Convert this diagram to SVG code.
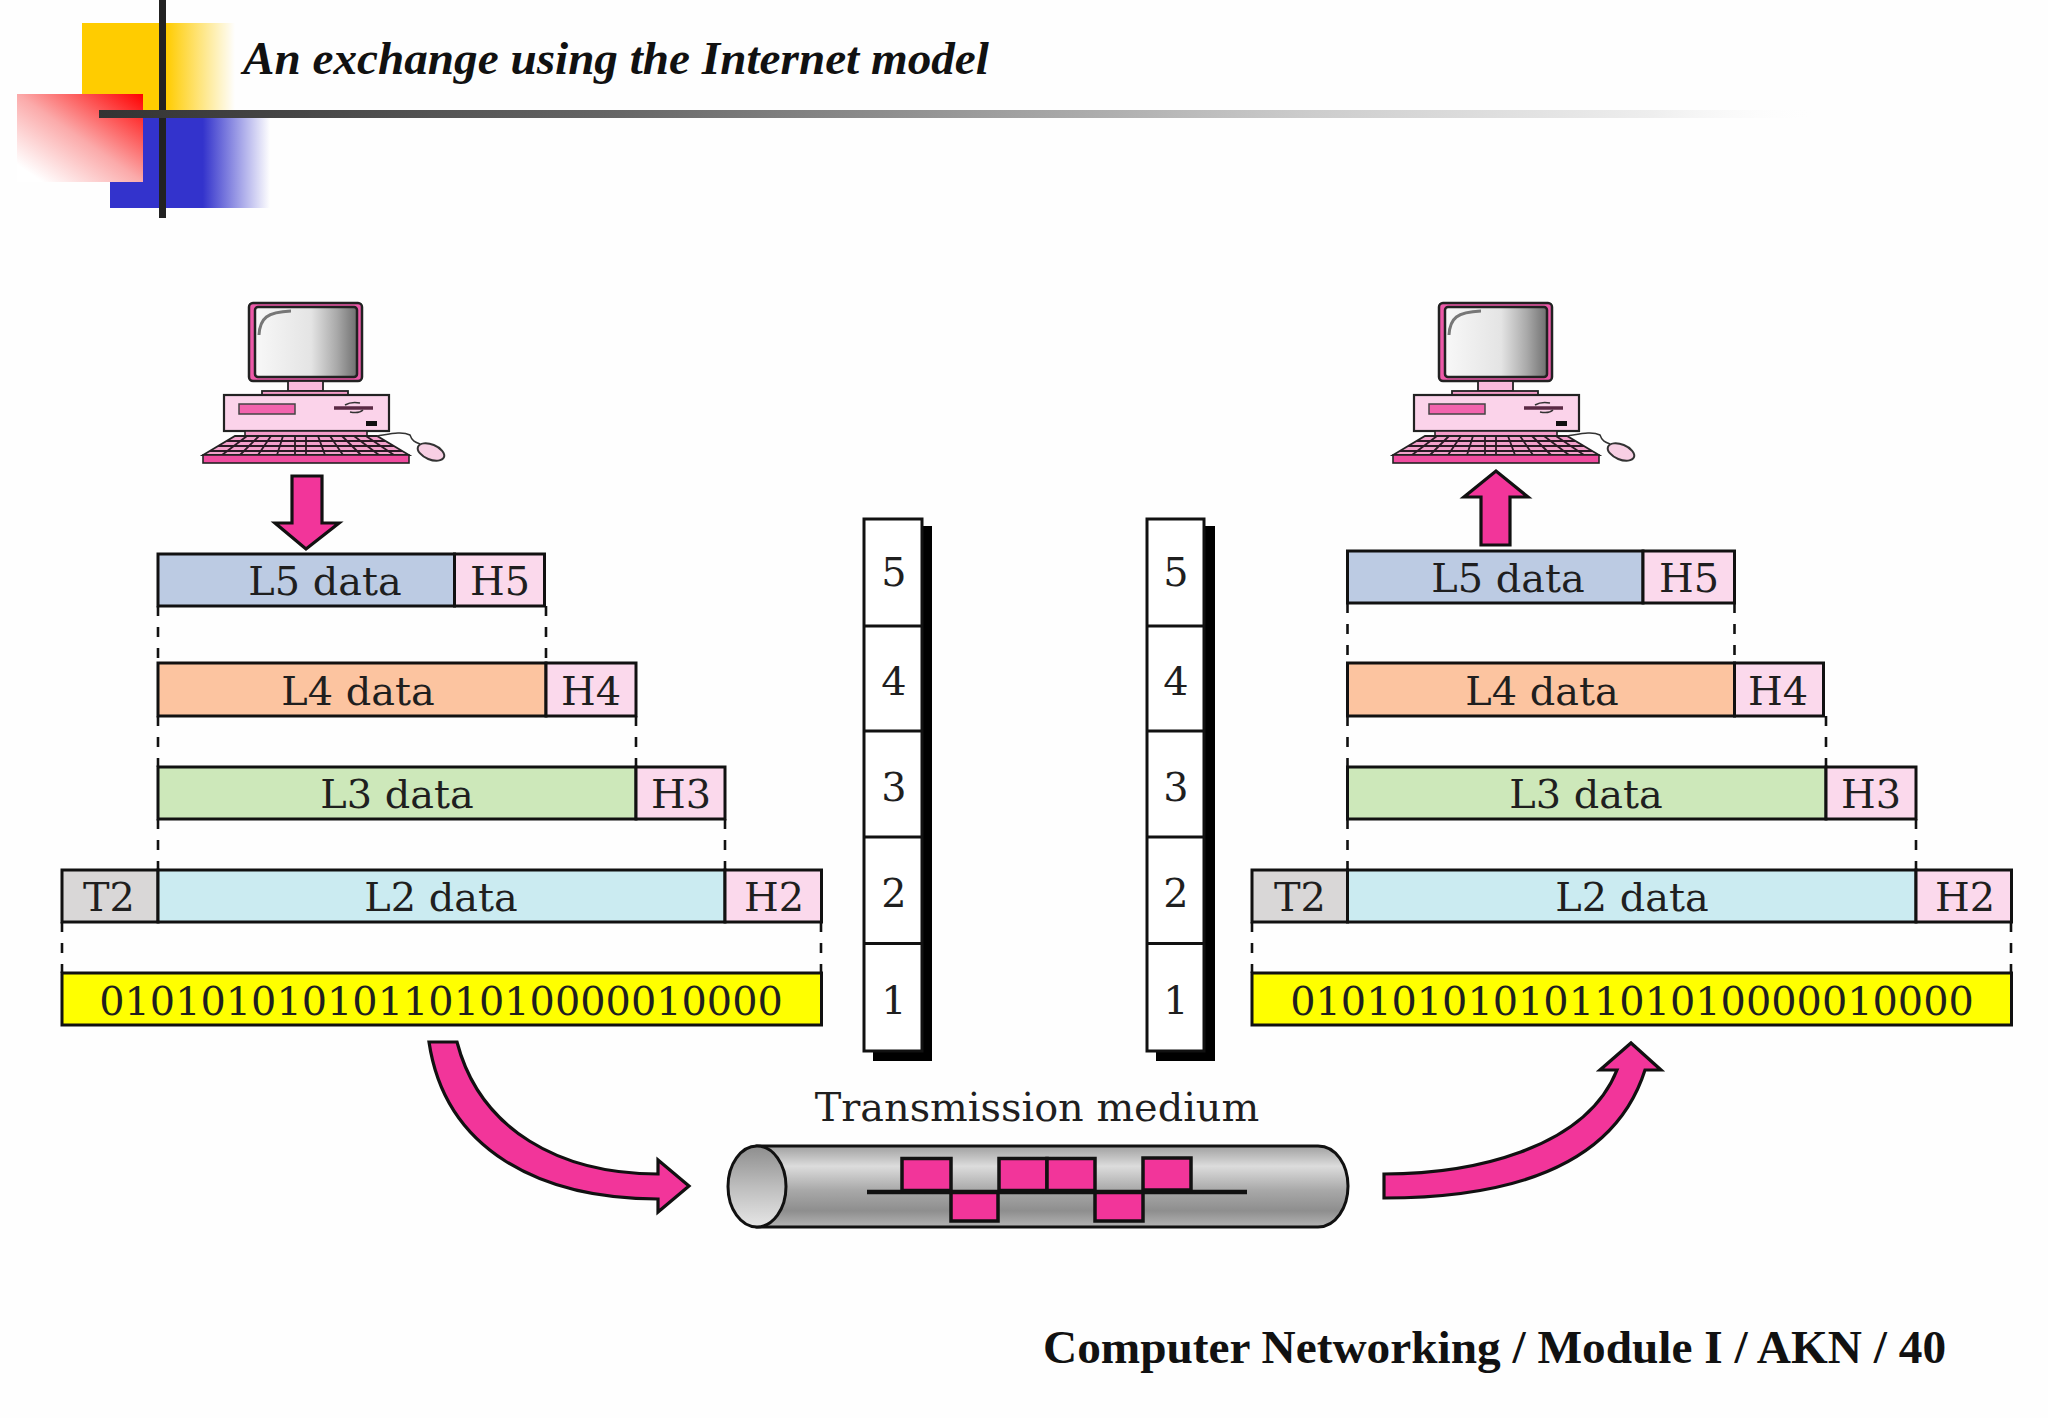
<svg xmlns="http://www.w3.org/2000/svg" xmlns:xlink="http://www.w3.org/1999/xlink" width="2048" height="1418" viewBox="0 0 2048 1418">
<style>
.b{stroke:#111;stroke-width:3}
.t{font-family:"DejaVu Serif","Liberation Serif",serif;font-size:39.8px;fill:#1f1f1f;text-anchor:middle}
.h5{fill:#fbd9ec}.l5{fill:#bccbe3}.l4{fill:#fcc4a0}.l3{fill:#cde8ba}.l2{fill:#cbebf1}.t2{fill:#d9d7d7}.y{fill:#ffff00}
.d{stroke:#111;stroke-width:2.6;stroke-dasharray:10 11;fill:none}
.a{fill:#f2359a;stroke:#111;stroke-width:3.2;stroke-linejoin:miter}
.s{fill:#fff;stroke:#111;stroke-width:3}
.k{stroke:#2a1a24;stroke-width:1.8;fill:none}
.p{fill:#f2359a;stroke:#111;stroke-width:3.5}
</style>
<defs>
<linearGradient id="gy"><stop offset="0" stop-color="#ffcc00"/><stop offset=".55" stop-color="#ffcc00"/><stop offset="1" stop-color="#ffcc00" stop-opacity="0"/></linearGradient>
<linearGradient id="gb"><stop offset="0" stop-color="#3333cc"/><stop offset=".58" stop-color="#3333cc"/><stop offset="1" stop-color="#3333cc" stop-opacity="0"/></linearGradient>
<linearGradient id="gr" x1="1" y1="0" x2="0" y2="1"><stop offset="0" stop-color="#ff0000"/><stop offset=".5" stop-color="#fbaaaa"/><stop offset=".9" stop-color="#ffffff"/></linearGradient>
<linearGradient id="gl"><stop offset="0" stop-color="#333"/><stop offset=".3" stop-color="#666"/><stop offset=".7" stop-color="#ccc"/><stop offset=".9" stop-color="#eee"/><stop offset="1" stop-color="#fff" stop-opacity="0"/></linearGradient>
<linearGradient id="gs"><stop offset="0" stop-color="#f8f8f8"/><stop offset=".55" stop-color="#e4e4e4"/><stop offset=".8" stop-color="#aaa"/><stop offset="1" stop-color="#707070"/></linearGradient>
<linearGradient id="gc" x1="0" y1="0" x2="0" y2="1"><stop offset="0" stop-color="#a0a0a0"/><stop offset=".25" stop-color="#dcdcdc"/><stop offset=".55" stop-color="#a8a8a8"/><stop offset=".8" stop-color="#8e8e8e"/><stop offset="1" stop-color="#b4b4b4"/></linearGradient>
<linearGradient id="ge" x1="0" y1="0" x2="0" y2="1"><stop offset="0" stop-color="#8e8e8e"/><stop offset=".5" stop-color="#bdbdbd"/><stop offset="1" stop-color="#e6e6e6"/></linearGradient>
<g id="pc">
<rect x="249" y="303" width="113" height="78" rx="4" fill="#ec5aa8" stroke="#222" stroke-width="2.500"/>
<rect x="255" y="307" width="102" height="70" rx="3" fill="url(#gs)" stroke="#222" stroke-width="2.500"/>
<path d="M259,335C260,318 267,312 291,311" fill="none" stroke="#777" stroke-width="3"/>
<rect x="288" y="381" width="35" height="10" fill="#f9b9dc" stroke="#222" stroke-width="1.800"/>
<rect x="262" y="391" width="86" height="4.500" fill="#f49cc9" stroke="#222" stroke-width="1.800"/>
<rect x="224" y="395" width="165" height="36" fill="#fbd3ea" stroke="#222" stroke-width="2.200"/>
<rect x="239" y="404" width="56" height="10" fill="#f263ad" stroke="#444" stroke-width="1.500"/>
<path d="M334,408H373" stroke="#5a2a44" stroke-width="3.500" fill="none"/>
<path d="M345,405C350,402 355,402 360,403M350,412C355,413 360,413 363,410" stroke="#333" stroke-width="1.500" fill="none"/>
<rect x="366" y="421" width="11" height="5" fill="#111"/>
<rect x="245" y="431" width="122" height="5" fill="#f49cc9" stroke="#222" stroke-width="1.600"/>
<path d="M235,436H377L409,455H203Z" fill="#f3a0cb" stroke="#222" stroke-width="1.800"/>
<path class="k" d="M227,441H385M218,446H394M210,451H402"/>
<path class="k" d="M247,436L222,455M259,436L240,455M271,436L258,455M283,436L277,455M295,436L295,455M306,436L306,455M318,436L325,455M330,436L343,455M342,436L361,455M354,436L379,455M366,436L394,455"/>
<rect x="203" y="455" width="206" height="8" fill="#f04c9f" stroke="#222" stroke-width="1.600"/>
<path d="M377,436C390,434 402,431 410,435C412,441 415,442 420,444" fill="none" stroke="#333" stroke-width="1.500"/>
<ellipse cx="431" cy="452" rx="14" ry="7.500" transform="rotate(22 431 452)" fill="#f7cfe3" stroke="#333" stroke-width="2"/>
</g>
</defs>
<rect width="2048" height="1418" fill="#fefefe"/>
<g id="header-decoration">
<rect x="82" y="23" width="153" height="95" fill="url(#gy)"/>
<rect x="110" y="118" width="160" height="90" fill="url(#gb)"/>
<rect x="17" y="94" width="126" height="88" fill="url(#gr)"/>
<rect x="159" y="0" width="7" height="218" fill="#222"/>
<rect x="99" y="110" width="1726" height="8" fill="url(#gl)"/>
</g>
<text id="title" x="243" y="74" font-family="'Liberation Serif',serif" font-size="47.200" font-weight="bold" font-style="italic" fill="#111">An exchange using the Internet model</text>
<g id="computer-left"><use xlink:href="#pc" href="#pc"/></g>
<g id="computer-right"><use xlink:href="#pc" href="#pc" x="1190"/></g>
<g id="sender-l5"><rect class="b l5" x="158" y="554" width="296.500" height="52"/><rect class="b h5" x="454.500" y="554" width="90" height="52"/><text class="t" x="325" y="595">L5 data</text><text class="t" x="500" y="595">H5</text></g>
<g id="sender-l4"><rect class="b l4" x="158" y="663" width="388" height="53"/><rect class="b h5" x="546" y="663" width="90" height="53"/><text class="t" x="358" y="705">L4 data</text><text class="t" x="591" y="705">H4</text></g>
<g id="sender-l3"><rect class="b l3" x="158" y="767" width="478" height="52"/><rect class="b h5" x="636" y="767" width="89" height="52"/><text class="t" x="397" y="808">L3 data</text><text class="t" x="681" y="808">H3</text></g>
<g id="sender-l2"><rect class="b t2" x="62" y="870" width="96" height="52"/><rect class="b l2" x="158" y="870" width="567" height="52"/><rect class="b h5" x="725" y="870" width="96.500" height="52"/><text class="t" x="109" y="911">T2</text><text class="t" x="441" y="911">L2 data</text><text class="t" x="774" y="911">H2</text></g>
<g id="sender-bits"><rect class="b y" x="62" y="973" width="759.500" height="52"/><text class="t" x="441" y="1015">010101010101101010000010000</text></g>
<g id="receiver-l5"><rect class="b l5" x="1347.500" y="551" width="295.500" height="52"/><rect class="b h5" x="1643" y="551" width="91.500" height="52"/><text class="t" x="1508" y="592">L5 data</text><text class="t" x="1689" y="592">H5</text></g>
<g id="receiver-l4"><rect class="b l4" x="1347.500" y="663" width="387" height="53"/><rect class="b h5" x="1734.500" y="663" width="89" height="53"/><text class="t" x="1542" y="705">L4 data</text><text class="t" x="1778" y="705">H4</text></g>
<g id="receiver-l3"><rect class="b l3" x="1347.500" y="767" width="478.500" height="52"/><rect class="b h5" x="1826" y="767" width="90" height="52"/><text class="t" x="1586" y="808">L3 data</text><text class="t" x="1871" y="808">H3</text></g>
<g id="receiver-l2"><rect class="b t2" x="1252" y="870" width="95.500" height="52"/><rect class="b l2" x="1347.500" y="870" width="568.500" height="52"/><rect class="b h5" x="1916" y="870" width="95.500" height="52"/><text class="t" x="1300" y="911">T2</text><text class="t" x="1632" y="911">L2 data</text><text class="t" x="1965" y="911">H2</text></g>
<g id="receiver-bits"><rect class="b y" x="1252" y="973" width="759.500" height="52"/><text class="t" x="1632" y="1015">010101010101101010000010000</text></g>
<g id="stack-left">
<path d="M873,526H932V1061H873Z" fill="#000"/>
<rect class="s" x="864" y="519" width="58" height="532"/>
<path class="s" d="M864,626H922M864,731H922M864,837H922M864,943.500H922"/>
<text class="t" x="894" y="586">5</text><text class="t" x="894" y="695">4</text><text class="t" x="894" y="801">3</text><text class="t" x="894" y="907">2</text><text class="t" x="894" y="1014">1</text>
</g>
<g id="stack-right">
<path d="M1156,526H1215V1061H1156Z" fill="#000"/>
<rect class="s" x="1147" y="519" width="57" height="532"/>
<path class="s" d="M1147,626H1204M1147,731H1204M1147,837H1204M1147,943.500H1204"/>
<text class="t" x="1176" y="586">5</text><text class="t" x="1176" y="695">4</text><text class="t" x="1176" y="801">3</text><text class="t" x="1176" y="907">2</text><text class="t" x="1176" y="1014">1</text>
</g>
<g id="transmission-medium">
<text class="t" x="1037" y="1121">Transmission medium</text>
<path d="M757,1146H1318C1336,1146 1348,1165 1348,1186C1348,1207 1336,1227 1318,1227H757Z" fill="url(#gc)" stroke="#111" stroke-width="3"/>
<ellipse cx="757" cy="1186.500" rx="29" ry="40.500" fill="url(#ge)" stroke="#111" stroke-width="3"/>
<rect class="p" x="902" y="1158.500" width="49" height="32"/><rect class="p" x="951" y="1192" width="47" height="29"/><rect class="p" x="999" y="1158.500" width="48" height="32"/><rect class="p" x="1047" y="1158.500" width="48" height="32"/><rect class="p" x="1095" y="1192" width="48" height="29"/><rect class="p" x="1143" y="1158" width="48" height="32"/>
<path d="M867,1192H1247" stroke="#111" stroke-width="4.500" fill="none"/>
</g>
<g id="connectors">
<path class="d" d="M158,606V663M546,606V663M158,716V767M636,716V767M158,819V870M725,819V870M62,922V973M821,922V973"/>
<path class="d" d="M1347.500,603V663M1734.500,603V663M1347.500,716V767M1826,716V767M1347.500,819V870M1916,819V870M1252,922V973M2011,922V973"/>
<path class="a" d="M292,476H322V523H339L306,549L275,523H292Z"/>
<path class="a" d="M1481,545H1510V497H1528L1496,471L1464,497H1481Z"/>
<path class="a" d="M429,1042H457C480,1130 560,1174 658,1174V1160L689,1186L658,1212V1199C540,1199 445,1150 429,1042Z"/>
<path class="a" d="M1384,1174C1470,1174 1585,1150 1617,1070H1600L1631,1043L1661,1070H1645C1610,1180 1480,1198 1384,1198Z"/>
</g>
<text id="footer" x="1043" y="1363" font-family="'Liberation Serif',serif" font-size="47.300" font-weight="bold" fill="#111">Computer Networking / Module I / AKN / 40</text>
</svg>
